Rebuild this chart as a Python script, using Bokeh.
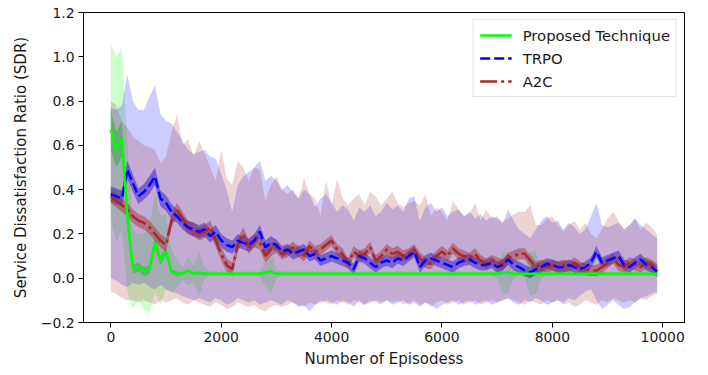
from bokeh.plotting import figure
from bokeh.models import Range1d, FixedTicker, CustomJSTickFormatter
from bokeh.embed import file_html
from bokeh.resources import INLINE

episodes = list(range(0, 10000, 100))

x_ticks = [0, 2000, 4000, 6000, 8000, 10000]
y_ticks = [-0.2, 0.0, 0.2, 0.4, 0.6, 0.8, 1.0, 1.2]

proposed_mean = [
    0.67, 0.58, 0.63, 0.28, 0.04, 0.05, 0.03, 0.04, 0.16, 0.08,
    0.12, 0.03, 0.02, 0.02, 0.035, 0.02, 0.025, 0.02, 0.02, 0.02,
    0.02, 0.02, 0.02, 0.02, 0.02, 0.02, 0.02, 0.02, 0.025, 0.03,
    0.02, 0.02, 0.02, 0.02, 0.02, 0.02, 0.02, 0.02, 0.02, 0.02,
    0.02, 0.02, 0.02, 0.02, 0.02, 0.02, 0.02, 0.02, 0.02, 0.02,
    0.02, 0.02, 0.02, 0.02, 0.02, 0.02, 0.02, 0.02, 0.02, 0.02,
    0.02, 0.02, 0.02, 0.02, 0.02, 0.02, 0.02, 0.02, 0.02, 0.02,
    0.02, 0.025, 0.025, 0.02, 0.02, 0.02, 0.02, 0.02, 0.02, 0.02,
    0.02, 0.02, 0.02, 0.02, 0.02, 0.02, 0.02, 0.02, 0.02, 0.02,
    0.02, 0.02, 0.02, 0.02, 0.02, 0.02, 0.02, 0.02, 0.02, 0.02]
proposed_upper = [
    1.06, 1.00, 1.04, 0.62, 0.22, 0.20, 0.20, 0.24, 0.38, 0.28,
    0.29, 0.13, 0.08, 0.05, 0.10, 0.06, 0.12, 0.05, 0.03, 0.03,
    0.03, 0.03, 0.03, 0.03, 0.03, 0.03, 0.03, 0.03, 0.08, 0.12,
    0.04, 0.03, 0.03, 0.03, 0.03, 0.03, 0.03, 0.03, 0.03, 0.03,
    0.03, 0.03, 0.03, 0.03, 0.03, 0.03, 0.03, 0.03, 0.03, 0.03,
    0.03, 0.03, 0.03, 0.03, 0.03, 0.03, 0.03, 0.03, 0.03, 0.03,
    0.03, 0.03, 0.03, 0.03, 0.03, 0.03, 0.03, 0.03, 0.03, 0.03,
    0.04, 0.12, 0.12, 0.04, 0.03, 0.04, 0.12, 0.12, 0.04, 0.03,
    0.03, 0.03, 0.03, 0.03, 0.03, 0.03, 0.03, 0.03, 0.03, 0.03,
    0.03, 0.03, 0.03, 0.03, 0.03, 0.03, 0.03, 0.03, 0.03, 0.03]
proposed_lower = [
    0.27, 0.16, 0.22, -0.06, -0.14, -0.10, -0.14, -0.16, -0.06, -0.12,
    -0.05, -0.07, -0.04, -0.01, -0.03, -0.02, -0.08, 0.00, 0.01, 0.01,
    0.01, 0.01, 0.01, 0.01, 0.01, 0.01, 0.01, 0.01, -0.04, -0.07,
    0.00, 0.01, 0.01, 0.01, 0.01, 0.01, 0.01, 0.01, 0.01, 0.01,
    0.01, 0.01, 0.01, 0.01, 0.01, 0.01, 0.01, 0.01, 0.01, 0.01,
    0.01, 0.01, 0.01, 0.01, 0.01, 0.01, 0.01, 0.01, 0.01, 0.01,
    0.01, 0.01, 0.01, 0.01, 0.01, 0.01, 0.01, 0.01, 0.01, 0.01,
    0.00, -0.07, -0.07, 0.00, 0.01, 0.00, -0.08, -0.07, 0.00, 0.01,
    0.01, 0.01, 0.01, 0.01, 0.01, 0.01, 0.01, 0.01, 0.01, 0.01,
    0.01, 0.01, 0.01, 0.01, 0.01, 0.01, 0.01, 0.01, 0.01, 0.01]
proposed_err = [
    0.09, 0.08, 0.08, 0.06, 0.02, 0.02, 0.02, 0.02, 0.03, 0.02,
    0.02, 0.01, 0.01, 0.005, 0.005, 0.005, 0.005, 0.005, 0.005, 0.005,
    0.005, 0.005, 0.005, 0.005, 0.005, 0.005, 0.005, 0.005, 0.005, 0.005,
    0.005, 0.005, 0.005, 0.005, 0.005, 0.005, 0.005, 0.005, 0.005, 0.005,
    0.005, 0.005, 0.005, 0.005, 0.005, 0.005, 0.005, 0.005, 0.005, 0.005,
    0.005, 0.005, 0.005, 0.005, 0.005, 0.005, 0.005, 0.005, 0.005, 0.005,
    0.005, 0.005, 0.005, 0.005, 0.005, 0.005, 0.005, 0.005, 0.005, 0.005,
    0.005, 0.005, 0.005, 0.005, 0.005, 0.005, 0.005, 0.005, 0.005, 0.005,
    0.005, 0.005, 0.005, 0.005, 0.005, 0.005, 0.005, 0.005, 0.005, 0.005,
    0.005, 0.005, 0.005, 0.005, 0.005, 0.005, 0.005, 0.005, 0.005, 0.005]

trpo_mean = [
    0.38, 0.37, 0.36, 0.49, 0.43, 0.37, 0.39, 0.42, 0.46, 0.36,
    0.34, 0.30, 0.28, 0.25, 0.23, 0.22, 0.21, 0.22, 0.19, 0.21,
    0.17, 0.15, 0.14, 0.17, 0.16, 0.15, 0.17, 0.21, 0.14, 0.16,
    0.15, 0.12, 0.13, 0.11, 0.12, 0.13, 0.10, 0.11, 0.08, 0.09,
    0.10, 0.09, 0.08, 0.07, 0.04, 0.10, 0.09, 0.07, 0.05, 0.07,
    0.08, 0.07, 0.09, 0.08, 0.10, 0.12, 0.05, 0.08, 0.09, 0.08,
    0.07, 0.06, 0.05, 0.07, 0.08, 0.085, 0.07, 0.06, 0.06, 0.07,
    0.05, 0.06, 0.085, 0.06, 0.05, 0.035, 0.025, 0.04, 0.05, 0.065,
    0.06, 0.05, 0.05, 0.06, 0.05, 0.04, 0.05, 0.07, 0.12, 0.07,
    0.08, 0.09, 0.10, 0.06, 0.05, 0.07, 0.085, 0.06, 0.05, 0.03]
trpo_upper = [
    0.77, 0.76, 0.78, 0.92, 0.80, 0.76, 0.76, 0.82, 0.87, 0.74,
    0.71, 0.70, 0.66, 0.62, 0.58, 0.56, 0.57, 0.58, 0.55, 0.54,
    0.47, 0.40, 0.30, 0.42, 0.46, 0.48, 0.50, 0.53, 0.44, 0.46,
    0.44, 0.40, 0.42, 0.39, 0.36, 0.40, 0.38, 0.32, 0.36, 0.38,
    0.34, 0.30, 0.33, 0.31, 0.26, 0.32, 0.30, 0.33, 0.28, 0.30,
    0.34, 0.31, 0.33, 0.30, 0.36, 0.37, 0.26, 0.32, 0.34, 0.30,
    0.32, 0.28, 0.30, 0.31, 0.28, 0.30, 0.27, 0.29, 0.26, 0.28,
    0.27, 0.25, 0.31, 0.26, 0.22, 0.20, 0.18, 0.22, 0.26, 0.28,
    0.25, 0.26, 0.22, 0.25, 0.23, 0.20, 0.22, 0.28, 0.34, 0.24,
    0.23, 0.24, 0.25, 0.22, 0.24, 0.27, 0.24, 0.22, 0.20, 0.18]
trpo_lower = [
    0.00, -0.01, -0.03, -0.04, -0.02, -0.03, -0.02, -0.04, -0.05, -0.03,
    -0.05, -0.06, -0.07, -0.08, -0.09, -0.10, -0.09, -0.10, -0.11, -0.09,
    -0.10, -0.12, -0.11, -0.09, -0.10, -0.11, -0.10, -0.12, -0.11, -0.10,
    -0.11, -0.12, -0.10, -0.11, -0.13, -0.12, -0.15, -0.12, -0.11, -0.10,
    -0.11, -0.12, -0.10, -0.11, -0.13, -0.10, -0.12, -0.11, -0.10, -0.11,
    -0.10, -0.12, -0.11, -0.10, -0.12, -0.11, -0.13, -0.11, -0.12, -0.14,
    -0.12, -0.11, -0.10, -0.12, -0.11, -0.10, -0.12, -0.11, -0.10, -0.12,
    -0.11, -0.10, -0.09, -0.11, -0.12, -0.10, -0.11, -0.09, -0.10, -0.12,
    -0.11, -0.10, -0.11, -0.09, -0.10, -0.08, -0.06, -0.05, -0.10, -0.14,
    -0.12, -0.10, -0.12, -0.14, -0.13, -0.11, -0.09, -0.08, -0.07, -0.06]
trpo_err = [
    0.035, 0.035, 0.035, 0.04, 0.04, 0.035, 0.035, 0.04, 0.04, 0.035,
    0.035, 0.035, 0.03, 0.03, 0.03, 0.03, 0.03, 0.03, 0.03, 0.03,
    0.03, 0.03, 0.03, 0.03, 0.03, 0.03, 0.03, 0.03, 0.03, 0.03,
    0.025, 0.025, 0.025, 0.025, 0.025, 0.025, 0.025, 0.025, 0.025, 0.025,
    0.025, 0.025, 0.025, 0.025, 0.025, 0.025, 0.025, 0.025, 0.025, 0.025,
    0.025, 0.025, 0.025, 0.025, 0.025, 0.025, 0.025, 0.025, 0.025, 0.025,
    0.025, 0.025, 0.025, 0.025, 0.025, 0.025, 0.025, 0.025, 0.025, 0.025,
    0.025, 0.025, 0.025, 0.025, 0.025, 0.025, 0.025, 0.025, 0.025, 0.025,
    0.025, 0.025, 0.025, 0.025, 0.025, 0.025, 0.025, 0.025, 0.025, 0.025,
    0.025, 0.025, 0.025, 0.025, 0.025, 0.025, 0.025, 0.025, 0.025, 0.025]

a2c_mean = [
    0.37, 0.35, 0.33, 0.31, 0.28, 0.26, 0.25, 0.23, 0.20, 0.17,
    0.15, 0.26, 0.31, 0.27, 0.23, 0.22, 0.20, 0.21, 0.23, 0.17,
    0.11, 0.06, 0.04, 0.15, 0.20, 0.14, 0.17, 0.16, 0.10, 0.13,
    0.14, 0.11, 0.12, 0.14, 0.12, 0.10, 0.145, 0.12, 0.13, 0.15,
    0.17, 0.13, 0.11, 0.065, 0.12, 0.10, 0.11, 0.14, 0.08, 0.10,
    0.13, 0.11, 0.12, 0.10, 0.11, 0.13, 0.09, 0.07, 0.065, 0.10,
    0.12, 0.10, 0.135, 0.11, 0.10, 0.09, 0.11, 0.08, 0.065, 0.08,
    0.07, 0.06, 0.09, 0.10, 0.11, 0.11, 0.08, 0.05, 0.06, 0.05,
    0.06, 0.05, 0.06, 0.05, 0.07, 0.05, 0.04, 0.035, 0.035, 0.05,
    0.07, 0.09, 0.06, 0.05, 0.07, 0.06, 0.05, 0.07, 0.06, 0.04]
a2c_upper = [
    0.80, 0.78, 0.71, 0.68, 0.64, 0.62, 0.60, 0.59, 0.58, 0.52,
    0.55, 0.66, 0.74, 0.60, 0.63, 0.55, 0.62, 0.56, 0.50, 0.44,
    0.58, 0.45, 0.42, 0.53, 0.50, 0.44, 0.50, 0.49, 0.35, 0.42,
    0.46, 0.40, 0.38, 0.40, 0.36, 0.45, 0.38, 0.36, 0.28, 0.44,
    0.33, 0.45, 0.36, 0.33, 0.36, 0.38, 0.33, 0.39, 0.37, 0.33,
    0.36, 0.39, 0.34, 0.32, 0.34, 0.35, 0.33, 0.38, 0.28, 0.32,
    0.30, 0.26, 0.35, 0.31, 0.28, 0.29, 0.34, 0.26, 0.31, 0.27,
    0.28, 0.25, 0.27, 0.29, 0.30, 0.30, 0.33, 0.24, 0.24, 0.27,
    0.28, 0.24, 0.21, 0.24, 0.26, 0.22, 0.25, 0.20, 0.18, 0.22,
    0.27, 0.30, 0.26, 0.22, 0.24, 0.27, 0.22, 0.25, 0.23, 0.20]
a2c_lower = [
    -0.06, -0.07, -0.09, -0.10, -0.10, -0.11, -0.10, -0.11, -0.12, -0.10,
    -0.11, -0.10, -0.09, -0.11, -0.12, -0.10, -0.11, -0.12, -0.13, -0.11,
    -0.12, -0.14, -0.13, -0.11, -0.12, -0.13, -0.12, -0.14, -0.15, -0.13,
    -0.12, -0.13, -0.12, -0.11, -0.12, -0.13, -0.11, -0.12, -0.10, -0.11,
    -0.12, -0.10, -0.11, -0.12, -0.10, -0.11, -0.12, -0.10, -0.11, -0.12,
    -0.10, -0.11, -0.10, -0.12, -0.11, -0.10, -0.12, -0.11, -0.13, -0.11,
    -0.10, -0.12, -0.11, -0.10, -0.12, -0.11, -0.10, -0.12, -0.11, -0.10,
    -0.11, -0.10, -0.09, -0.10, -0.11, -0.12, -0.10, -0.11, -0.12, -0.10,
    -0.11, -0.10, -0.12, -0.11, -0.13, -0.12, -0.10, -0.11, -0.12, -0.10,
    -0.11, -0.09, -0.10, -0.11, -0.10, -0.11, -0.09, -0.10, -0.08, -0.07]
a2c_err = [
    0.03, 0.03, 0.03, 0.03, 0.03, 0.03, 0.03, 0.03, 0.03, 0.03,
    0.03, 0.03, 0.03, 0.03, 0.03, 0.03, 0.03, 0.03, 0.03, 0.03,
    0.03, 0.03, 0.03, 0.03, 0.03, 0.03, 0.03, 0.03, 0.03, 0.03,
    0.025, 0.025, 0.025, 0.025, 0.025, 0.025, 0.025, 0.025, 0.025, 0.025,
    0.025, 0.025, 0.025, 0.025, 0.025, 0.025, 0.025, 0.025, 0.025, 0.025,
    0.025, 0.025, 0.025, 0.025, 0.025, 0.025, 0.025, 0.025, 0.025, 0.025,
    0.025, 0.025, 0.025, 0.025, 0.025, 0.025, 0.025, 0.025, 0.025, 0.025,
    0.025, 0.025, 0.025, 0.025, 0.025, 0.025, 0.025, 0.025, 0.025, 0.025,
    0.025, 0.025, 0.025, 0.025, 0.025, 0.025, 0.025, 0.025, 0.025, 0.025,
    0.025, 0.025, 0.025, 0.025, 0.025, 0.025, 0.025, 0.025, 0.025, 0.025]

FONT = "DejaVu Sans"
TXT = "#1a1a1a"

p = figure(width=708, height=375, output_backend="svg", toolbar_location=None,
           x_range=Range1d(-495, 10395), y_range=Range1d(-0.2, 1.2),
           min_border_left=83, min_border_right=24, min_border_top=12,
           min_border_bottom=53, background_fill_color="white",
           border_fill_color="white")
p.xgrid.visible = False
p.ygrid.visible = False
p.outline_line_color = "black"
p.outline_line_width = 1

series = [
    ("Proposed Technique", proposed_mean, proposed_upper, proposed_lower, proposed_err, "#00ff00", "solid"),
    ("TRPO", trpo_mean, trpo_upper, trpo_lower, trpo_err, "#0000ff", "10 4"),
    ("A2C", a2c_mean, a2c_upper, a2c_lower, a2c_err, "#a52a2a", "17 4 3 4"),
]

for name, m, up, lo, err, col, dash in series:
    p.varea(x=episodes, y1=lo, y2=up, fill_color=col, fill_alpha=0.2)
    p.varea(x=episodes, y1=[a - e for a, e in zip(m, err)],
            y2=[a + e for a, e in zip(m, err)], fill_color=col, fill_alpha=0.45)

for name, m, up, lo, err, col, dash in [series[2], series[1], series[0]]:
    p.line(x=episodes, y=m, line_color=col, line_width=2.5,
           line_dash=dash, legend_label=name)

leg = p.legend[0]
leg.items = [leg.items[2], leg.items[1], leg.items[0]]
leg.location = "top_right"
leg.margin = 7
leg.padding = 6
leg.spacing = 5
leg.glyph_width = 32
leg.glyph_height = 18
leg.label_height = 18
leg.label_standoff = 11
leg.label_text_font = FONT
leg.label_text_font_size = "14.8px"
leg.label_text_color = TXT
leg.border_line_color = "#cccccc"
leg.border_line_width = 1
leg.background_fill_alpha = 0.8

p.xaxis.ticker = FixedTicker(ticks=x_ticks)
p.yaxis.ticker = FixedTicker(ticks=y_ticks)
p.yaxis.formatter = CustomJSTickFormatter(code="return tick.toFixed(1).replace('-', '\u2212');")
for ax in (p.xaxis, p.yaxis):
    ax.minor_tick_line_color = None
    ax.major_tick_in = 0
    ax.major_tick_out = 5
    ax.major_tick_line_color = "black"
    ax.axis_line_color = "black"
    ax.major_label_text_font = FONT
    ax.major_label_text_font_size = "13.9px"
    ax.major_label_text_color = TXT
    ax.axis_label_text_font = FONT
    ax.axis_label_text_font_size = "15px"
    ax.axis_label_text_font_style = "normal"
    ax.axis_label_text_color = TXT
    ax.major_label_standoff = 4

p.xaxis.axis_label = "Number of Episodess"
p.yaxis.axis_label = "Service Dissatisfaction Ratio (SDR)"
p.xaxis.axis_label_standoff = 5
p.yaxis.axis_label_standoff = 8

open("out.html", "w").write(file_html(p, INLINE))
